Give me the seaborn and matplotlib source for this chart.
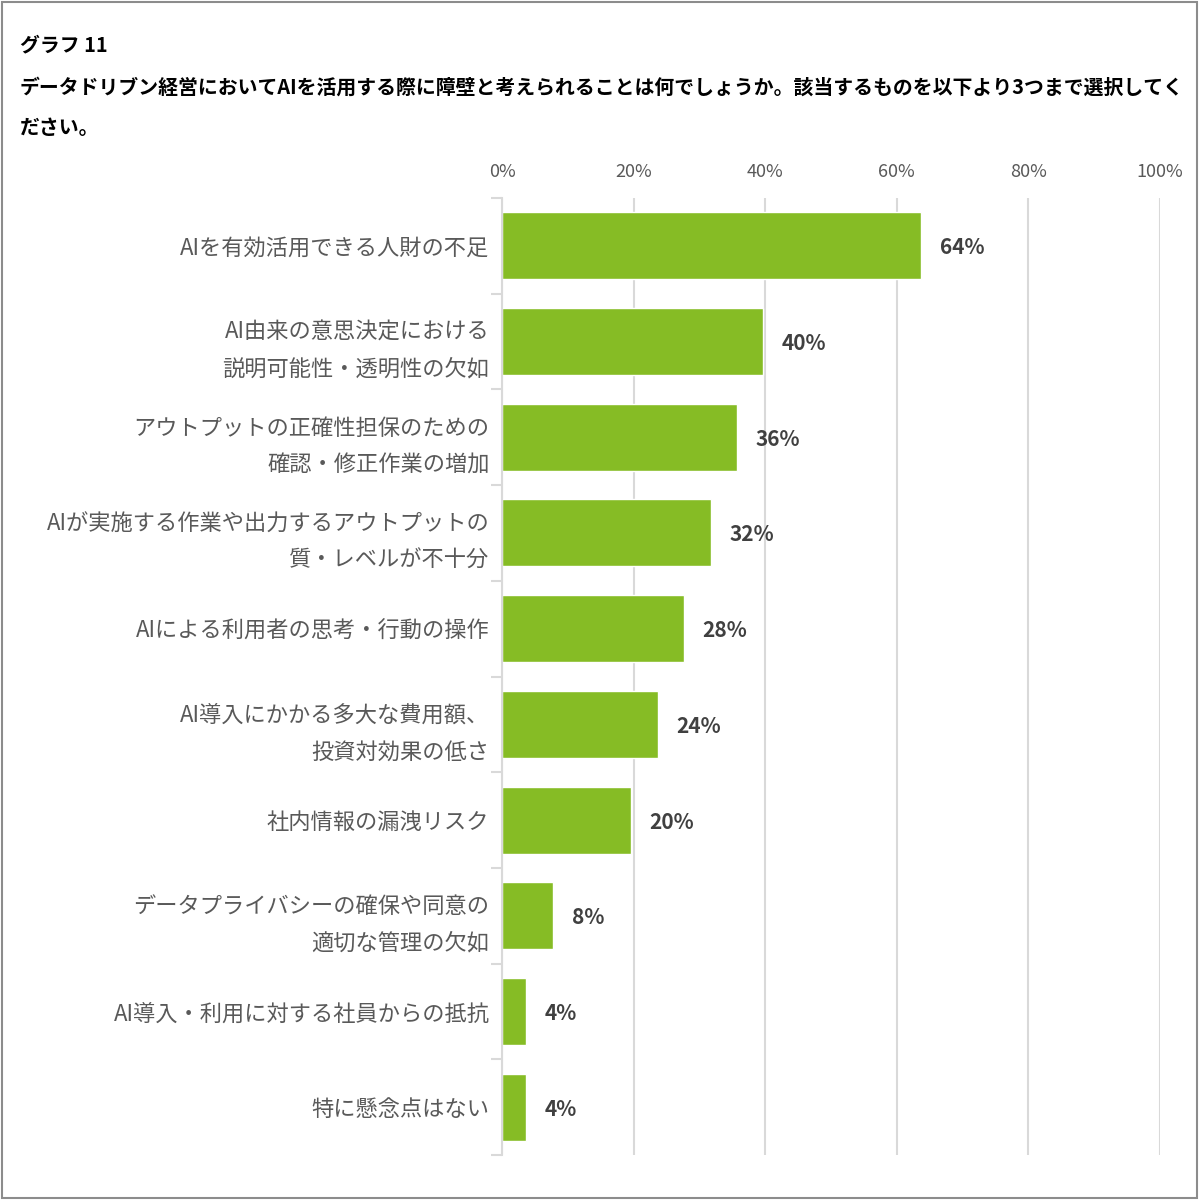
import matplotlib
matplotlib.use("Agg")
import matplotlib.pyplot as plt
import seaborn as sns
import pandas as pd
import numpy as np
from matplotlib.patches import Rectangle
from matplotlib.ticker import FixedLocator

categories = [
    "AIを有効活用できる人財の不足",
    "AI由来の意思決定における\n説明可能性・透明性の欠如",
    "アウトプットの正確性担保のための\n確認・修正作業の増加",
    "AIが実施する作業や出力するアウトプットの\n質・レベルが不十分",
    "AIによる利用者の思考・行動の操作",
    "AI導入にかかる多大な費用額、\n投資対効果の低さ",
    "社内情報の漏洩リスク",
    "データプライバシーの確保や同意の\n適切な管理の欠如",
    "AI導入・利用に対する社員からの抵抗",
    "特に懸念点はない",
]
values = [63.7, 39.7, 35.7, 31.8, 27.7, 23.7, 19.6, 7.8, 3.6, 3.6]
value_labels = ["64%", "40%", "36%", "32%", "28%", "24%", "20%", "8%", "4%", "4%"]
x_ticks = [0, 20, 40, 60, 80, 100]
x_tick_labels = ["0%", "20%", "40%", "60%", "80%", "100%"]
title_line1 = "グラフ 11"
title_line2 = "データドリブン経営においてAIを活用する際に障壁と考えられることは何でしょうか。該当するものを以下より3つまで選択してく"
title_line3 = "ださい。"

sns.set_theme(style="white")
plt.rcParams["font.family"] = ["Noto Sans CJK JP", "DejaVu Sans"]

df = pd.DataFrame({"cat": categories, "val": values})

fig = plt.figure(figsize=(11.99, 12), dpi=100)
ax = fig.add_axes([0.4187, 0.0375, 0.9675 - 0.4187, 0.835 - 0.0375])

sns.barplot(data=df, y="cat", x="val", color="#86bc25", saturation=1, width=0.7, ax=ax, orient="h")

ax.set_xlim(0, 100)
ax.set_ylim(len(categories) - 0.5, -0.5)
ax.xaxis.tick_top()
ax.set_xticks(x_ticks)
ax.set_xticklabels(x_tick_labels, fontsize=13, color="#595959")
ax.tick_params(axis="x", length=0, pad=12)
ax.set_xlabel("")
ax.set_ylabel("")

ax.grid(axis="x", color="#d9d9d9", linewidth=1.5)
ax.set_axisbelow(True)
for s in ["top", "right", "bottom"]:
    ax.spines[s].set_visible(False)
ax.spines["left"].set_color("#d9d9d9")
ax.spines["left"].set_linewidth(1.5)

ax.set_yticks(range(len(categories)))
ax.set_yticklabels(categories, fontsize=16, color="#595959", linespacing=1.75, style="italic")
ax.tick_params(axis="y", which="major", length=0, pad=9)
ax.yaxis.set_minor_locator(FixedLocator(np.arange(-0.5, len(categories), 1.0)))
ax.tick_params(axis="y", which="minor", length=8, width=1.5, color="#d9d9d9", left=True)

for i, (v, lab) in enumerate(zip(values, value_labels)):
    ax.text(v + 2.8, i, lab, va="center_baseline", ha="left", fontsize=15, fontweight="bold", color="#404040")

fig.text(20 / 1199, 1 - 45 / 1200, title_line1, fontsize=14.3, fontweight="bold", color="black", va="center", ha="left")
fig.text(20 / 1199, 1 - 87 / 1200, title_line2, fontsize=14.3, fontweight="bold", color="black", va="center", ha="left")
fig.text(20 / 1199, 1 - 128 / 1200, title_line3, fontsize=14.3, fontweight="bold", color="black", va="center", ha="left")

fig.patches.append(Rectangle((0.002, 0.002), 0.996, 0.996, transform=fig.transFigure,
                             fill=False, edgecolor="#8c8c8c", linewidth=1.5))

fig.savefig("out.png", dpi=100)
